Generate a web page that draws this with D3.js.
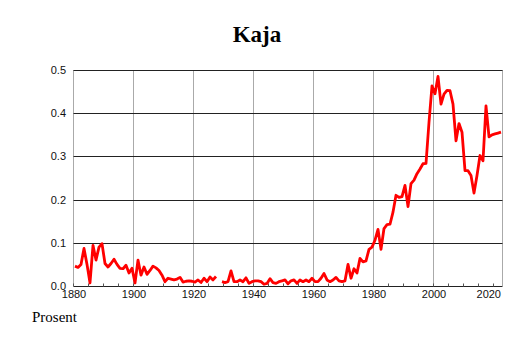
<!DOCTYPE html>
<html><head><meta charset="utf-8">
<script src="https://cdn.jsdelivr.net/npm/d3@7"></script>
<style>body{margin:0;background:#fff}svg{display:block}</style>
</head><body>
<svg id="c" width="514" height="343"></svg>
<script>
const title = "Kaja";
const yTitle = "Prosent";
const firstYear = 1880, lastYear = 2022;
const values = [
 0.046,0.043,0.050,0.087,0.050,0.007,0.094,0.060,0.090,0.098,
 0.052,0.044,0.052,0.062,0.050,0.041,0.040,0.048,0.030,0.041,
 0.007,0.060,0.025,0.044,0.027,0.036,0.046,0.042,0.036,0.025,
 0.010,0.018,0.016,0.014,0.016,0.020,0.009,0.011,0.012,0.011,
 0.009,0.014,0.008,0.018,0.010,0.021,0.014,0.022,null,0.010,
 0.008,0.010,0.035,0.010,0.010,0.014,0.010,0.019,0.006,0.010,
 0.012,0.012,0.010,0.004,0.006,0.017,0.008,0.006,0.010,0.012,
 0.014,0.005,0.012,0.014,0.006,0.014,0.010,0.014,0.010,0.018,
 0.010,0.010,0.018,0.029,0.014,0.010,0.014,0.020,0.012,0.010,
 0.012,0.050,0.018,0.040,0.030,0.064,0.056,0.058,0.085,0.090,
 0.106,0.131,0.085,0.133,0.142,0.143,0.171,0.210,0.205,0.207,
 0.233,0.184,0.237,0.245,0.260,0.271,0.283,0.284,0.379,0.463,
 0.445,0.485,0.421,0.444,0.453,0.452,0.421,0.336,0.376,0.356,
 0.267,0.267,0.256,0.215,0.256,0.302,0.290,0.417,0.345,0.350,
 0.352,0.354,0.356
];
const years = d3.range(firstYear, lastYear + 1);
const xTicks = [1880,1900,1920,1940,1960,1980,2000,2020];
const xGrid = [1880,1900,1920,1940,1960,1980,2000,2023];
const xMinorTicks = d3.range(1880, 2021, 5);
const yTicks = [0,0.1,0.2,0.3,0.4,0.5];

const svg = d3.select("#c");
const x = d3.scaleLinear().domain([1880, 2023]).range([73.5, 502.5]);
const y = d3.scaleLinear().domain([0, 0.5]).range([286, 70]);

svg.append("g").selectAll("line").data(xGrid).join("line")
  .attr("x1", d => x(d)).attr("x2", d => x(d))
  .attr("y1", y(0)).attr("y2", y(0.5))
  .attr("stroke", "#aaaaaa").attr("stroke-width", 1);

svg.append("g").selectAll("line").data(yTicks).join("line")
  .attr("x1", x(1880)).attr("x2", x(2023))
  .attr("y1", d => Math.round(y(d)) + 0.5).attr("y2", d => Math.round(y(d)) + 0.5)
  .attr("stroke", "#222").attr("stroke-width", 1);

svg.append("g").selectAll("line").data(xMinorTicks).join("line")
  .attr("x1", d => x(d)).attr("x2", d => x(d))
  .attr("y1", Math.round(y(0)) + 0.5).attr("y2", Math.round(y(0)) - 2.5)
  .attr("stroke", "#555").attr("stroke-width", 1);

const yAxis = d3.axisLeft(y).tickValues(yTicks).tickFormat(d3.format(".1f")).tickSize(0).tickPadding(0);
const ga = svg.append("g").attr("transform", `translate(${x(1880) - 7.5},0)`).call(yAxis);
ga.select(".domain").remove();
ga.selectAll("text").attr("font-family", "Liberation Sans, Arial, sans-serif").attr("font-size", 11).attr("fill", "#111");

const xAxis = d3.axisBottom(x).tickValues(xTicks).tickFormat(d3.format("d")).tickSize(0).tickPadding(0);
const gx = svg.append("g").attr("transform", `translate(0,${y(0) + 4})`).call(xAxis);
gx.select(".domain").remove();
gx.selectAll("text").attr("font-family", "Liberation Sans, Arial, sans-serif").attr("font-size", 11).attr("fill", "#111");
gx.selectAll(".tick").filter(d => d === 2020).select("text")
  .attr("text-anchor", "end").attr("x", x(2023) - 2 - x(2020));

const line = d3.line()
  .defined(d => d[1] != null)
  .x(d => x(d[0] + 0.5))
  .y(d => y(d[1]));
svg.append("path")
  .datum(years.map((yr, i) => [yr, values[i]]))
  .attr("d", line)
  .attr("fill", "none").attr("stroke", "#ff0000").attr("stroke-width", 2.8)
  .attr("stroke-linejoin", "round");

svg.append("text").attr("x", 257).attr("y", 41.5).attr("text-anchor", "middle")
  .attr("font-family", "Liberation Serif, Times New Roman, serif").attr("font-weight", "bold")
  .attr("font-size", 23).attr("fill", "#000").text(title);

svg.append("text").attr("x", 32).attr("y", 322).attr("text-anchor", "start")
  .attr("font-family", "Liberation Serif, Times New Roman, serif")
  .attr("font-size", 15).attr("fill", "#000").text(yTitle);
</script>
</body></html>
